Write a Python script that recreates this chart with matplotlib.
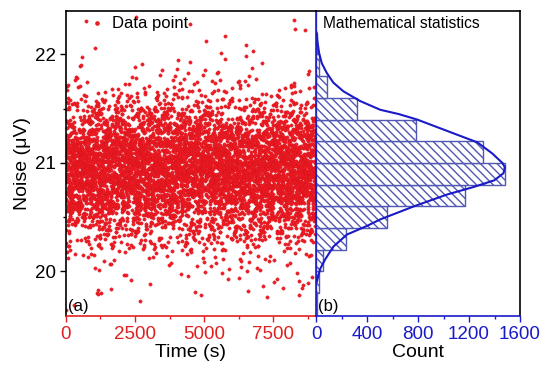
import numpy as np
import matplotlib
matplotlib.use("Agg")
import matplotlib.pyplot as plt

plt.rcParams['font.family'] = ['Liberation Sans', 'DejaVu Sans']

# ---- data ----
# histogram: lower bin edges (µV), bin width 0.2, counts
bin_edges_lo = [19.6, 19.8, 20.0, 20.2, 20.4, 20.6, 20.8, 21.0, 21.2, 21.4, 21.6, 21.8, 22.0, 22.2]
bin_counts = [5, 22, 57, 236, 560, 1166, 1481, 1308, 788, 323, 90, 22, 6, 3]
bin_width = 0.2

# fitted distribution curve (noise, count)
fit_noise = [19.90, 20.02, 20.11, 20.23, 20.34, 20.42, 20.48, 20.60, 20.71, 20.78,
             20.84, 20.905, 20.96, 21.00, 21.09, 21.19, 21.29, 21.40, 21.45, 21.49,
             21.57, 21.66, 21.74, 21.83, 21.92, 22.015, 22.13, 22.20]
fit_count = [5, 31, 71, 137, 242, 400, 504, 767, 1030, 1240,
             1398, 1470, 1481, 1462, 1380, 1265, 1040, 793, 650, 504,
             347, 215, 136, 84, 45, 24, 10, 5]

# outlying data points read individually (time s, noise µV)
outlier_time = [725, 8260, 8270, 1120, 1180, 1270, 1150, 8430, 8520]
outlier_noise = [22.31, 22.32, 22.23, 19.80, 19.79, 19.80, 19.83, 19.78, 19.85]

time_span = 9040.0

# ---- build scatter values from the histogram distribution ----
vals = []
nb = len(bin_counts)
for i, (lo, c) in enumerate(zip(bin_edges_lo, bin_counts)):
    cp = bin_counts[i - 1] if i > 0 else 0
    cn = bin_counts[i + 1] if i < nb - 1 else 0
    dL = (cp + c) / 2.0
    dR = (c + cn) / 2.0
    for k in range(c):
        q = (k + 0.5) / c
        target = q * (dL + dR) / 2.0
        a = (dR - dL) / 2.0
        if abs(a) < 1e-9:
            x = target / dL
        else:
            x = (-dL + np.sqrt(dL * dL + 4 * a * target)) / (2 * a)
        vals.append(lo + bin_width * x)
vals = np.sort(np.array(vals))
N = len(vals)
idx = np.arange(N)
order = np.argsort(np.mod(idx * idx * 0.6180339887 + idx * 0.4142135623, 1.0))
noise = vals[order]
times = idx * time_span / N

red = '#ee1c24'
tickred = '#e02020'
blue = '#1a1ac8'

fig = plt.figure(figsize=(5.40, 3.66), dpi=100)
axL = fig.add_axes([65.7/540, 1-316/366, 250.3/540, 305/366])
axR = fig.add_axes([316/540, 1-316/366, 204/540, 305/366])

axL.scatter(times, noise, s=6.0, c=red, edgecolors='#d01018', linewidths=0.2, zorder=2)
axL.scatter(outlier_time, outlier_noise, s=6.0, c=red, edgecolors='#d01018', linewidths=0.2, zorder=2,
            label='Data point')
axL.set_xlim(0, time_span)
axL.set_ylim(19.59, 22.40)
axL.set_xticks([0, 2500, 5000, 7500])
axL.set_xticks([1250, 3750, 6250, 8750], minor=True)
axL.set_yticks([20, 21, 22])
axL.set_yticks([20.5, 21.5], minor=True)
axL.tick_params(axis='both', which='major', direction='out', length=4, width=1, labelsize=13.5, pad=3)
axL.tick_params(axis='both', which='minor', direction='out', length=2.5, width=1)
axL.tick_params(axis='x', which='both', colors=tickred, labelcolor=tickred)
axL.spines['bottom'].set_color(tickred)
axL.spines['right'].set_visible(False)
for s in axL.spines.values():
    s.set_linewidth(1.2)
axL.set_xlabel('Time (s)', fontsize=14, labelpad=1)
axL.set_ylabel('Noise (μV)', fontsize=14, labelpad=3)
axL.legend(loc='upper left', bbox_to_anchor=(0.05, 1.018), frameon=False, fontsize=12,
           handletextpad=0.45, handlelength=1.0, markerscale=1.25, borderaxespad=0.2)
axL.text(0.01, 0.005, '(a)', transform=axL.transAxes, fontsize=12, ha='left', va='bottom')

axR.barh(bin_edges_lo, bin_counts, height=bin_width, align='edge', color='white',
         edgecolor='#5058b4', linewidth=1.0, hatch='\\\\\\\\', zorder=2)
axR.plot(fit_count, fit_noise, color=blue, lw=1.5, zorder=3)
axR.set_xlim(0, 1600)
axR.set_ylim(axL.get_ylim())
axR.set_xticks([0, 400, 800, 1200, 1600])
axR.set_xticks([200, 600, 1000, 1400], minor=True)
axR.set_yticks([])
axR.tick_params(axis='x', which='major', direction='out', length=4, width=1, labelsize=13.5,
                colors=blue, labelcolor=blue, pad=3)
axR.tick_params(axis='x', which='minor', direction='out', length=2.5, width=1, colors=blue)
axR.spines['left'].set_color(blue)
axR.spines['bottom'].set_color(blue)
for s in axR.spines.values():
    s.set_linewidth(1.2)
axR.set_xlabel('Count', fontsize=14, labelpad=1)
axR.text(0.035, 0.985, 'Mathematical statistics', transform=axR.transAxes, fontsize=11.2,
         ha='left', va='top')
axR.text(0.01, 0.005, '(b)', transform=axR.transAxes, fontsize=12, ha='left', va='bottom')

fig.savefig('out.png', dpi=100)
